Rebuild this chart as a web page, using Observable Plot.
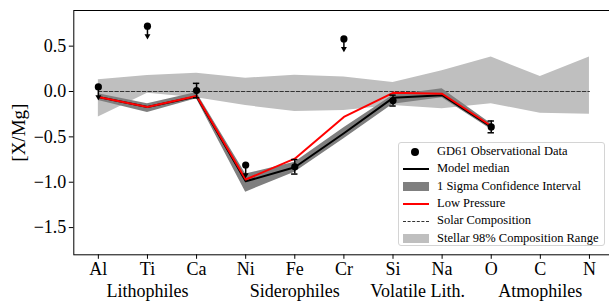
<!DOCTYPE html>
<html>
<head>
<meta charset="utf-8">
<script src="https://cdn.jsdelivr.net/npm/d3@7"></script>
<script src="https://cdn.jsdelivr.net/npm/@observablehq/plot@0.6"></script>
<style>
  html, body { margin: 0; padding: 0; overflow: hidden; background: #fff; }
  #wrap { position: relative; width: 609px; height: 304px; }
  #legend {
    position: absolute; left: 398px; top: 142px; width: 207px; height: 104px;
    border: 1px solid #d4d4d4; border-radius: 3px; background: rgba(255,255,255,0.85);
    font-family: "Liberation Serif", "DejaVu Serif", serif; font-size: 12.5px; color: #000;
    box-sizing: border-box;
  }
  .row { position: absolute; left: 0; height: 17px; width: 100%; }
  .lbl { position: absolute; left: 38px; top: 50%; transform: translateY(-52%); white-space: nowrap; }
  .h { position: absolute; left: 4px; width: 26px; top: 50%; }
</style>
</head>
<body>
<div id="wrap"></div>
<script>
// ---- data ----
const elements = ["Al", "Ti", "Ca", "Ni", "Fe", "Cr", "Si", "Na", "O", "C", "N"];

// Stellar 98% composition range (all elements)
const stellarLow  = [-0.28, -0.02, -0.07, -0.155, -0.22, -0.21, -0.155, -0.19, -0.135, -0.24, -0.25];
const stellarHigh = [0.13, 0.176, 0.20, 0.147, 0.18, 0.16, 0.10, 0.23, 0.38, 0.165, 0.38];
const solar       = [0, 0, 0, 0, 0, 0, 0, 0, 0, 0, 0];

// Model (Al..O)
const modelElements = ["Al", "Ti", "Ca", "Ni", "Fe", "Cr", "Si", "Na", "O"];
const modelMedian = [-0.06, -0.17, -0.055, -0.99, -0.835, -0.46, -0.07, -0.04, -0.39];
const sigmaLow    = [-0.10, -0.23, -0.08, -1.11, -0.89, -0.52, -0.14, -0.07, -0.42];
const sigmaHigh   = [-0.025, -0.135, -0.01, -0.91, -0.78, -0.40, -0.04, 0.03, -0.355];
const lowPressure = [-0.06, -0.17, -0.05, -0.97, -0.74, -0.28, -0.015, -0.025, -0.38];

// GD61 observations
const obsElements   = ["Al", "Ti", "Ca", "Ni", "Fe", "Cr", "Si", "O"];
const obsValues     = [0.05, 0.72, 0.01, -0.81, -0.83, 0.58, -0.10, -0.39];
const obsErrors     = [0.12, 0.12, 0.08, 0.12, 0.08, 0.12, 0.06, 0.065];
const obsUpperLimit = [true, true, false, true, false, true, false, false];

// Group labels
const groupNames   = ["Lithophiles", "Siderophiles", "Volatile Lith.", "Atmophiles"];
const groupCenters = [1, 4, 6.5, 9];

const yTicks = [0.5, 0.0, -0.5, -1.0, -1.5];

// ---- tables ----
const idx = e => elements.indexOf(e);
const stellar = elements.map((e, i) => ({i, lo: stellarLow[i], hi: stellarHigh[i], solar: solar[i]}));
const model = modelElements.map((e, k) => ({i: idx(e), med: modelMedian[k], lo: sigmaLow[k], hi: sigmaHigh[k], lp: lowPressure[k]}));
const obs = obsElements.map((e, k) => ({i: idx(e), v: obsValues[k], e: obsErrors[k], ul: obsUpperLimit[k]}));
const obsErr = obs.filter(d => !d.ul);
const obsUL = obs.filter(d => d.ul);
const groups = groupNames.map((g, k) => ({name: g, x: groupCenters[k]}));

const font = "Liberation Serif, DejaVu Serif, serif";
const capW = 0.065;

const chart = Plot.plot({
  width: 609,
  height: 304,
  marginLeft: 73.3,
  marginRight: -4.5,
  marginTop: 10,
  marginBottom: 49.7,
  style: {fontFamily: font, fontSize: "18px", background: "white", color: "black"},
  x: {type: "linear", domain: [-0.5, 10.5]},
  y: {domain: [-1.80, 0.893]},
  marks: [
    Plot.areaY(stellar, {x: "i", y1: "lo", y2: "hi", fill: "#bfbfbf", curve: "linear"}),
    Plot.lineY(stellar, {x: "i", y: "solar", stroke: "#333", strokeWidth: 1.1, strokeDasharray: "3.5,2"}),
    Plot.areaY(model, {x: "i", y1: "lo", y2: "hi", fill: "#7f7f7f"}),
    Plot.lineY(model, {x: "i", y: "med", stroke: "black", strokeWidth: 2}),
    Plot.lineY(model, {x: "i", y: "lp", stroke: "red", strokeWidth: 2}),
    // error bars
    Plot.ruleX(obsErr, {x: "i", y1: d => d.v - d.e, y2: d => d.v + d.e, stroke: "black", strokeWidth: 1.5}),
    Plot.ruleY(obsErr, {y: d => d.v - d.e, x1: d => d.i - capW, x2: d => d.i + capW, stroke: "black", strokeWidth: 1.5}),
    Plot.ruleY(obsErr, {y: d => d.v + d.e, x1: d => d.i - capW, x2: d => d.i + capW, stroke: "black", strokeWidth: 1.5}),
    // upper limits
    Plot.ruleX(obsUL, {x: "i", y1: "v", y2: d => d.v - d.e, stroke: "black", strokeWidth: 1.5}),
    Plot.dot(obsUL, {x: "i", y: d => d.v - d.e, symbol: "triangle", rotate: 180, r: 2.2, fill: "black", dy: -1}),
    Plot.dot(obs, {x: "i", y: "v", r: 3.6, fill: "black"}),
    Plot.frame({stroke: "black", strokeWidth: 1}),
    Plot.axisY({ticks: yTicks, tickFormat: d3.format(".1f"), tickSize: 4.5, tickPadding: 3, label: null, fontSize: 18}),
    Plot.axisX({ticks: d3.range(elements.length), tickFormat: i => elements[i], tickSize: 4.5, tickPadding: 3, label: null, fontSize: 18}),
    Plot.text(["[X/Mg]"], {frameAnchor: "left", dx: -55, rotate: -90, textAnchor: "middle", lineAnchor: "middle", fontSize: 19}),
    Plot.text(groups, {x: "x", text: "name", frameAnchor: "bottom", dy: 36, lineAnchor: "middle", fontSize: 18})
  ]
});

const wrap = document.getElementById("wrap");
wrap.appendChild(chart);

// legend
const legend = document.createElement("div");
legend.id = "legend";
const items = [
  {label: "GD61 Observational Data", h: '<div style="position:absolute;left:8px;top:-4px;width:8px;height:8px;border-radius:50%;background:#000"></div>'},
  {label: "Model median", h: '<div class="h" style="height:2px;margin-top:-1px;background:#000"></div>'},
  {label: "1 Sigma Confidence Interval", h: '<div class="h" style="height:9px;margin-top:-4.5px;background:#7f7f7f"></div>'},
  {label: "Low Pressure", h: '<div class="h" style="height:2px;margin-top:-1px;background:red"></div>'},
  {label: "Solar Composition", h: '<div class="h" style="height:0;margin-top:-0.5px;border-top:1.1px dashed #333"></div>'},
  {label: "Stellar 98% Composition Range", h: '<div class="h" style="height:9px;margin-top:-4.5px;background:#bfbfbf"></div>'}
];
items.forEach((it, k) => {
  const r = document.createElement("div");
  r.className = "row";
  r.style.top = (0.5 + k * 17.3) + "px";
  r.innerHTML = (k === 0 ? '<div class="h" style="height:0">' + it.h + '</div>' : it.h) + '<div class="lbl">' + it.label + '</div>';
  legend.appendChild(r);
});
wrap.appendChild(legend);
</script>
</body>
</html>
